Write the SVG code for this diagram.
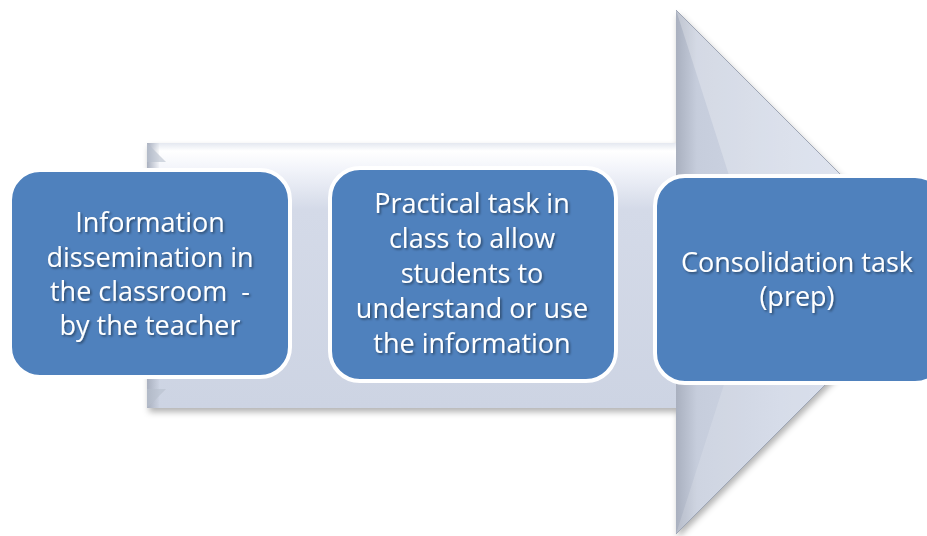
<svg xmlns="http://www.w3.org/2000/svg" width="927" height="536" viewBox="0 0 927 536">
<style>
.box{fill:#4F81BD;stroke:#ffffff;stroke-width:4}
.lbl{font-family:"Open Sans","Liberation Sans",sans-serif;font-size:27px;fill:#ffffff;text-anchor:middle}
</style>
<defs>
<linearGradient id="bodyG" x1="0" y1="143" x2="0" y2="408" gradientUnits="userSpaceOnUse">
<stop offset="0" stop-color="#e4e8f0"/>
<stop offset="0.03" stop-color="#ffffff"/>
<stop offset="0.1" stop-color="#f2f4fa"/>
<stop offset="0.25" stop-color="#d4dae8"/>
<stop offset="1" stop-color="#cdd4e3"/>
</linearGradient>
<linearGradient id="headG" x1="676" y1="0" x2="938" y2="0" gradientUnits="userSpaceOnUse">
<stop offset="0" stop-color="#a9b0bf"/>
<stop offset="0.08" stop-color="#c6cddc"/>
<stop offset="0.4" stop-color="#cfd6e5"/>
<stop offset="1" stop-color="#dbe2f2"/>
</linearGradient>
<linearGradient id="leftG" x1="147" y1="0" x2="160" y2="0" gradientUnits="userSpaceOnUse">
<stop offset="0" stop-color="#a9b0bf"/>
<stop offset="1" stop-color="#a9b0bf" stop-opacity="0"/>
</linearGradient>
<filter id="sh" x="-10%" y="-10%" width="130%" height="130%">
<feDropShadow dx="2" dy="4" stdDeviation="3" flood-color="#000000" flood-opacity="0.3"/>
</filter>
<filter id="tsh" x="-10%" y="-10%" width="130%" height="140%">
<feDropShadow dx="1.5" dy="1.5" stdDeviation="1" flood-color="#000000" flood-opacity="0.45"/>
</filter>
</defs>
<g id="arrow">
<path d="M147,143 L676,143 L676,10 L938,272 L676,534 L676,408 L147,408 Z" fill="url(#bodyG)" filter="url(#sh)"/>
<path d="M676,10 L938,272 L676,534 Z" fill="url(#headG)"/>
<path d="M676,10 L938,272 L760,272 Z" fill="#ffffff" opacity="0.25"/>
<path d="M676,534 L938,272 L760,272 Z" fill="#ffffff" opacity="0.15"/>
<path d="M676,10 L938,272 L676,534" fill="none" stroke="#9ea6b6" stroke-width="1"/>
<rect x="147" y="143" width="12" height="265" fill="url(#leftG)"/>
<path d="M147,143 L166,162 L147,162 Z" fill="#b7bfcd" opacity="0.6"/>
<path d="M147,408 L166,389 L147,389 Z" fill="#b7bfcd" opacity="0.6"/>
</g>
<g id="node1">
<rect class="box" x="10" y="170" width="280" height="207" rx="30"/>
<text class="lbl" filter="url(#tsh)"><tspan x="150" y="232">Information</tspan><tspan x="150" y="267">dissemination in</tspan><tspan x="150" y="301">the classroom&#160; -</tspan><tspan x="150" y="335">by the teacher</tspan></text>
</g>
<g id="node2">
<rect class="box" x="330" y="168" width="286" height="213" rx="30"/>
<text class="lbl" filter="url(#tsh)"><tspan x="472" y="213">Practical task in</tspan><tspan x="472" y="248">class to allow</tspan><tspan x="472" y="283">students to</tspan><tspan x="472" y="318">understand or use</tspan><tspan x="472" y="353">the information</tspan></text>
</g>
<g id="node3">
<rect class="box" x="655" y="176" width="290" height="207" rx="30"/>
<text class="lbl" filter="url(#tsh)"><tspan x="797" y="272">Consolidation task</tspan><tspan x="797" y="306">(prep)</tspan></text>
</g>
<g id="connectors"></g>
</svg>
